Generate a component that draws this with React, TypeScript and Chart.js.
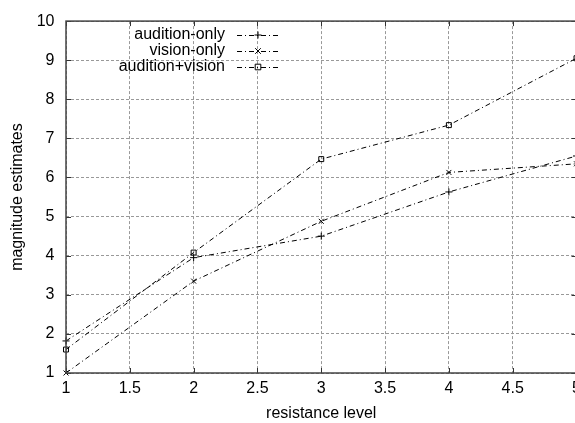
import React, { useEffect, useRef } from 'react';
import { Chart, registerables } from 'chart.js';

Chart.register(...registerables);

const FONT = '"Liberation Sans", Arial, Helvetica, sans-serif';

const resistanceLevels = [1, 2, 3, 4, 5];
const auditionOnly = [1.82, 3.95, 4.5, 5.63, 6.55];
const visionOnly = [1.0, 3.35, 4.88, 6.13, 6.35];
const auditionVision = [1.6, 4.08, 6.47, 7.34, 9.05];
const seriesLabels = ['audition-only', 'vision-only', 'audition+vision'];
const seriesMarkers = ['cross', 'crossRot', 'rect'];
const xTitle = 'resistance level';
const yTitle = 'magnitude estimates';

const LINE_DASH = [5, 3, 1, 3];

function drawMarker(ctx: CanvasRenderingContext2D, style: string, x: number, y: number, r: number) {
  ctx.beginPath();
  ctx.setLineDash([]);
  if (style === 'cross') {
    ctx.moveTo(x - r, y); ctx.lineTo(x + r, y);
    ctx.moveTo(x, y - r); ctx.lineTo(x, y + r);
  } else if (style === 'crossRot') {
    const d = r * 0.8;
    ctx.moveTo(x - d, y - d); ctx.lineTo(x + d, y + d);
    ctx.moveTo(x - d, y + d); ctx.lineTo(x + d, y - d);
  } else {
    ctx.rect(x - r * 0.8, y - r * 0.8, r * 1.6, r * 1.6);
  }
  ctx.stroke();
}

const framePlugin = {
  id: 'gnuFrame',
  afterDatasetsDraw(chart: any) {
    const { ctx, chartArea } = chart;
    const { left, right, top, bottom } = chartArea;
    const xs = chart.scales.x;
    const ys = chart.scales.y;
    ctx.save();
    ctx.setLineDash([]);
    ctx.strokeStyle = '#333';
    ctx.lineWidth = 1;
    const tl = 5;
    ctx.beginPath();
    xs.ticks.forEach((t: any) => {
      const px = Math.round(xs.getPixelForValue(t.value)) + 0.5;
      ctx.moveTo(px, bottom); ctx.lineTo(px, bottom - tl);
      ctx.moveTo(px, top); ctx.lineTo(px, top + tl);
    });
    ys.ticks.forEach((t: any) => {
      const py = Math.round(ys.getPixelForValue(t.value)) + 0.5;
      ctx.moveTo(left, py); ctx.lineTo(left + tl, py);
      ctx.moveTo(right, py); ctx.lineTo(right - tl, py);
    });
    ctx.stroke();
    ctx.lineWidth = 1.5;
    ctx.strokeStyle = '#444';
    ctx.strokeRect(left, top, right - left, bottom - top);
    ctx.restore();
  },
  afterDraw(chart: any) {
    const ctx = chart.ctx;
    ctx.save();
    ctx.font = `16px ${FONT}`;
    ctx.textAlign = 'right';
    ctx.textBaseline = 'middle';
    chart.data.datasets.forEach((ds: any, i: number) => {
      const yy = 35 + i * 16;
      ctx.fillStyle = '#000';
      ctx.fillText(ds.label, 225, yy);
      ctx.strokeStyle = '#000';
      ctx.lineWidth = 1;
      ctx.setLineDash(LINE_DASH);
      ctx.beginPath();
      ctx.moveTo(237, yy + 0.5);
      ctx.lineTo(280, yy + 0.5);
      ctx.stroke();
      drawMarker(ctx, ds.pointStyle, 258, yy, 3.5);
    });
    ctx.restore();
  },
};

const fmt = (v: any) => String(Number(v));

export default function App() {
  const ref = useRef<HTMLCanvasElement | null>(null);
  useEffect(() => {
    if (!ref.current) return;
    document.body.style.margin = '0';
    document.body.style.overflow = 'hidden';
    const seriesValues = [auditionOnly, visionOnly, auditionVision];
    const datasets = seriesValues.map((vals, i) => ({
      label: seriesLabels[i],
      data: resistanceLevels.map((x, j) => ({ x, y: vals[j] })),
      borderColor: '#000',
      backgroundColor: 'rgba(0,0,0,0)',
      borderWidth: 1,
      borderDash: LINE_DASH,
      pointStyle: seriesMarkers[i],
      pointRadius: 3.5,
      pointBorderWidth: 1,
      pointBorderColor: '#000',
      pointBackgroundColor: 'rgba(0,0,0,0)',
      fill: false,
      tension: 0,
      clip: false as any,
    }));
    const chart = new Chart(ref.current, {
      type: 'line',
      data: { datasets },
      plugins: [framePlugin],
      options: {
        responsive: false,
        animation: false,
        layout: { padding: { top: 20, right: 23.5, left: 0, bottom: 0 } },
        plugins: { legend: { display: false }, tooltip: { enabled: false } },
        scales: {
          x: {
            type: 'linear',
            min: 1,
            max: 5,
            ticks: { stepSize: 0.5, color: '#000', padding: 6, font: { family: FONT, size: 16 }, maxRotation: 0, callback: fmt },
            grid: { color: '#999', lineWidth: 1, drawTicks: false },
            border: { display: false, dash: [3, 2] },
            title: { display: true, text: xTitle, color: '#000', font: { family: FONT, size: 16 }, padding: { top: 0, bottom: 0 } },
            afterFit: (s: any) => { s.height = 50; },
          },
          y: {
            type: 'linear',
            min: 1,
            max: 10,
            ticks: { stepSize: 1, color: '#000', padding: 11.5, font: { family: FONT, size: 16 }, callback: fmt },
            grid: { color: '#999', lineWidth: 1, drawTicks: false },
            border: { display: false, dash: [3, 2] },
            title: { display: true, text: yTitle, color: '#000', font: { family: FONT, size: 16 }, padding: { top: 8, bottom: 0 } },
            afterFit: (s: any) => { s.width = 66; },
          },
        },
      },
    });
    return () => chart.destroy();
  }, []);
  return (
    <div style={{ position: 'absolute', left: 0, top: 0, width: 575, height: 423, overflow: 'hidden', background: '#fff' }}>
      <canvas ref={ref} width={600} height={423} style={{ width: 600, height: 423, display: 'block' }} />
    </div>
  );
}
